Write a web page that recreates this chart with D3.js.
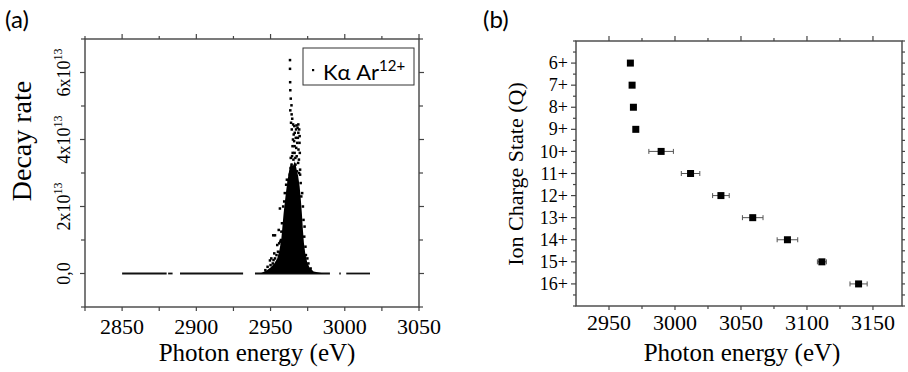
<!DOCTYPE html>
<html>
<head>
<meta charset="utf-8">
<script src="https://cdn.jsdelivr.net/npm/d3@7"></script>
<style>
  body { margin: 0; background: #fff; }
</style>
</head>
<body>
<div id="container"></div>
<script>
const width = 908, height = 372;
const AX = "#444";
const SERIF = "'Liberation Serif', 'Times New Roman', serif";
const SANS = "Lato, 'Open Sans', sans-serif";

// --- Panel (a): decay rate vs photon energy (rate in units of 1e13) ---
// stretches of points lying on zero decay rate [from, to] in eV
const baseSegments = [[2850, 2880], [2881, 2884], [2889, 2931.5], [2939.5, 2990], [2996.3, 2997.3], [3001, 3017]];
// outline of the solid dense core of the Ka line [eV, rate]
const coreOutline = [
  [2943, 0], [2947, 0.08], [2950, 0.18], [2952.5, 0.3], [2954.5, 0.45], [2956, 0.7], [2957.2, 1.0],
  [2958, 1.4], [2958.8, 1.8], [2959.8, 2.2], [2960.6, 2.5], [2961.5, 2.8], [2962.6, 3.1], [2963.8, 3.3],
  [2965, 3.2], [2966.4, 3.35], [2967.6, 3.1], [2968.6, 2.9], [2969.6, 2.6], [2970.4, 2.2], [2971.1, 1.8],
  [2971.8, 1.3], [2972.5, 0.9], [2973.4, 0.6], [2974.6, 0.35], [2976.2, 0.18], [2979, 0.06], [2986, 0]
];
// individual points scattered around the core [eV, rate]
const peakPoints = [
  [2963.1, 6.37], [2963.1, 6.11], [2963.2, 5.71], [2963.3, 5.47], [2963.6, 5.22], [2964.1, 5.02],
  [2963.3, 4.87], [2964.2, 4.75], [2964.6, 4.62], [2963.8, 4.5], [2965.2, 4.45], [2966, 4.4],
  [2967.5, 4.42], [2968.7, 4.45], [2969.3, 4.3], [2969.6, 4.1], [2969.5, 3.9], [2968.8, 3.7],
  [2969.7, 3.6], [2966.3, 4.2], [2965.1, 4.0], [2967, 4.05], [2968, 3.9], [2964.8, 3.8],
  [2966.2, 3.6], [2967.6, 3.5], [2965.4, 3.4], [2968.6, 3.3], [2964.2, 3.25], [2969.9, 3.1],
  [2963.5, 3.15], [2966.8, 3.25], [2962.9, 2.95], [2970.3, 2.7], [2962.3, 2.75], [2970.7, 2.3],
  [2969.2, 3.0], [2965.8, 3.1], [2967.8, 3.05], [2964.5, 3.5], [2966.2, 3.8], [2968.7, 4.2],
  [2967.2, 4.3], [2965.6, 4.15], [2968.2, 4.35], [2964.3, 4.3], [2966.7, 3.45], [2969.1, 3.4],
  [2965.9, 3.95], [2967.3, 3.75], [2964.9, 3.6], [2968.4, 4.05], [2969.9, 2.95], [2963.6, 3.45],
  [2951.8, 1.14], [2953, 1.14], [2956.3, 1.94], [2955.5, 1.3], [2954.5, 0.85], [2952.5, 0.6],
  [2950.5, 0.45], [2949.6, 0.39], [2951.5, 0.3], [2953, 0.45], [2955, 0.65], [2957, 1.0],
  [2957.7, 1.5], [2958.5, 2.0], [2959.6, 2.4], [2960.5, 2.65], [2956.5, 0.95], [2948, 0.2],
  [2946.5, 0.1], [2972.2, 1.6], [2972.7, 1.1], [2973.5, 0.8], [2974.8, 0.45], [2975.5, 0.3],
  [2977, 0.15], [2971.8, 2.0], [2971.3, 2.4], [2954, 0.55], [2955.8, 0.9], [2957.3, 1.25],
  [2959.2, 2.15], [2961, 2.8], [2972.9, 1.4], [2973.8, 0.55], [2950, 0.25], [2952, 0.4]
];
const aXTicks = [2850, 2900, 2950, 3000, 3050];
const aYTicks = [0, 2, 4, 6];
const aYTickText = ["0,0", "2x10", "4x10", "6x10"];

// --- Panel (b): Ka line energy per ion charge state ---
const chargeStates = [6, 7, 8, 9, 10, 11, 12, 13, 14, 15, 16];
const lineEnergy = [2966.2, 2967.5, 2968.5, 2970.3, 2989.5, 3011.8, 3034.8, 3058.9, 3085.2, 3111.3, 3139.1];
const energyError = [2, 1.5, 2.5, 0, 9.3, 7.0, 6.3, 7.8, 7.8, 3.4, 6.5];
const bXTicks = [2950, 3000, 3050, 3100, 3150];

const svg = d3.select("#container").append("svg")
  .attr("width", width).attr("height", height);

// box with outward ticks on all four sides
function frame(g, x, y, xMajor, xMinor, yMajor, yMinor, sides) {
  const [x0, x1] = x.range();
  const [yb, yt] = y.range().slice().sort((a, b) => b - a);
  const tick = (vals, len, side) => {
    vals.forEach((v) => {
      const ln = g.append("line").attr("stroke", AX).attr("stroke-width", 1.2);
      if (side === "bottom") ln.attr("x1", x(v)).attr("x2", x(v)).attr("y1", yb).attr("y2", yb + len);
      if (side === "top") ln.attr("x1", x(v)).attr("x2", x(v)).attr("y1", yt).attr("y2", yt - len);
      if (side === "left") ln.attr("y1", y(v)).attr("y2", y(v)).attr("x1", x0).attr("x2", x0 - len);
      if (side === "right") ln.attr("y1", y(v)).attr("y2", y(v)).attr("x1", x1).attr("x2", x1 + len);
    });
  };
  tick(xMajor, sides.top[0], "top"); tick(xMinor, sides.top[1], "top");
  tick(xMajor, sides.bottom[0], "bottom"); tick(xMinor, sides.bottom[1], "bottom");
  tick(yMajor, sides.left[0], "left"); tick(yMinor, sides.left[1], "left");
  tick(yMajor, sides.right[0], "right"); tick(yMinor, sides.right[1], "right");
  g.append("rect")
    .attr("x", x0).attr("y", yt).attr("width", x1 - x0).attr("height", yb - yt)
    .attr("fill", "none").attr("stroke", AX).attr("stroke-width", 1.4);
}

// ================= Panel (a) =================
const ga = svg.append("g");
const xa = d3.scaleLinear().domain([2825, 3050]).range([85, 419]);
const ya = d3.scaleLinear().domain([-1, 7]).range([307, 39]);

ga.selectAll(".seg").data(baseSegments).join("line")
  .attr("x1", (d) => xa(d[0])).attr("x2", (d) => xa(d[1]))
  .attr("y1", ya(0)).attr("y2", ya(0))
  .attr("stroke", "#111").attr("stroke-width", 1.8);

ga.append("path")
  .datum(coreOutline)
  .attr("d", d3.line().x((d) => xa(d[0])).y((d) => ya(d[1])).curve(d3.curveLinearClosed))
  .attr("fill", "#000");

ga.selectAll(".pt").data(peakPoints).join("rect")
  .attr("x", (d) => xa(d[0]) - 1.25).attr("y", (d) => ya(d[1]) - 1.25)
  .attr("width", 2.5).attr("height", 2.5).attr("fill", "#000");

frame(ga, xa, ya,
  aXTicks, [2825, 2875, 2925, 2975, 3025],
  aYTicks, [-1, 1, 3, 5, 7],
  { top: [5, 3], bottom: [4, 4], left: [5, 4], right: [5, 4] });

ga.selectAll(".xl").data(aXTicks).join("text")
  .attr("x", (d) => xa(d)).attr("y", 334)
  .attr("text-anchor", "middle").attr("font-family", SERIF).style("font-size", "22px")
  .text((d) => d);

aYTicks.forEach((v, i) => {
  const t = ga.append("text")
    .attr("transform", `translate(70,${ya(v)}) rotate(-90)`)
    .attr("text-anchor", "middle").attr("font-family", SERIF).style("font-size", "18px");
  t.append("tspan").text(aYTickText[i]);
  if (v !== 0) t.append("tspan").attr("dy", -8).style("font-size", "12px").text("13");
});

ga.append("text")
  .attr("x", 257).attr("y", 361).attr("text-anchor", "middle")
  .attr("font-family", SERIF).style("font-size", "25px").text("Photon energy (eV)");
ga.append("text")
  .attr("transform", "translate(31,141) rotate(-90)").attr("text-anchor", "middle")
  .attr("font-family", SERIF).style("font-size", "28px").text("Decay rate");

// legend
ga.append("rect")
  .attr("x", 303).attr("y", 48).attr("width", 111).attr("height", 37)
  .attr("fill", "#fff").attr("stroke", "#333").attr("stroke-width", 1);
ga.append("rect")
  .attr("x", 312).attr("y", 69).attr("width", 2.2).attr("height", 2.2).attr("fill", "#000");
const lg = ga.append("text")
  .attr("x", 323).attr("y", 79.5).attr("font-family", SANS).style("font-size", "22px");
lg.append("tspan").text("K");
lg.append("tspan").text("\u03b1 Ar");
lg.append("tspan").attr("dy", -9).style("font-size", "15px").text("12+");

ga.append("text").attr("font-family", SANS)
  .attr("x", 5).attr("y", 28).style("font-size", "24px").text("(a)");

// ================= Panel (b) =================
const gb = svg.append("g");
const xb = d3.scaleLinear().domain([2925, 3172]).range([576, 902]);
const yb = d3.scaleLinear().domain([5, 17]).range([41, 306]);

frame(gb, xb, yb,
  bXTicks, [2975, 3025, 3075, 3125],
  chargeStates, d3.range(5.5, 17, 1).concat([5, 17]),
  { top: [5, 3], bottom: [4, 3], left: [5, 3], right: [3, 3] });

const rows = chargeStates.map((q, i) => ({ q, e: lineEnergy[i], err: energyError[i] }));
const bars = gb.selectAll(".eb").data(rows).join("g");
bars.append("line")
  .attr("x1", (d) => xb(d.e - d.err)).attr("x2", (d) => xb(d.e + d.err))
  .attr("y1", (d) => yb(d.q)).attr("y2", (d) => yb(d.q))
  .attr("stroke", "#555").attr("stroke-width", 1);
[-1, 1].forEach((s) => {
  bars.filter((d) => d.err > 3).append("line")
    .attr("x1", (d) => xb(d.e + s * d.err)).attr("x2", (d) => xb(d.e + s * d.err))
    .attr("y1", (d) => yb(d.q) - 2.5).attr("y2", (d) => yb(d.q) + 2.5)
    .attr("stroke", "#555").attr("stroke-width", 1);
});
bars.append("rect")
  .attr("x", (d) => xb(d.e) - 3.5).attr("y", (d) => yb(d.q) - 3.5)
  .attr("width", 7).attr("height", 7).attr("fill", "#000");

gb.selectAll(".xl").data(bXTicks).join("text")
  .attr("x", (d) => xb(d)).attr("y", 330)
  .attr("text-anchor", "middle").attr("font-family", SERIF).style("font-size", "22px")
  .text((d) => d);
gb.selectAll(".yl").data(chargeStates).join("text")
  .attr("x", 568).attr("y", (d) => yb(d)).attr("dy", "0.34em")
  .attr("text-anchor", "end").attr("font-family", SERIF).style("font-size", "18px")
  .text((d) => d + "+");

gb.append("text")
  .attr("x", 742).attr("y", 361).attr("text-anchor", "middle")
  .attr("font-family", SERIF).style("font-size", "25px").text("Photon energy (eV)");
gb.append("text")
  .attr("transform", "translate(523,174) rotate(-90)").attr("text-anchor", "middle")
  .attr("font-family", SERIF).style("font-size", "22px").text("Ion Charge State (Q)");

gb.append("text").attr("font-family", SANS)
  .attr("x", 483).attr("y", 28).style("font-size", "24px").text("(b)");
</script>
</body>
</html>
